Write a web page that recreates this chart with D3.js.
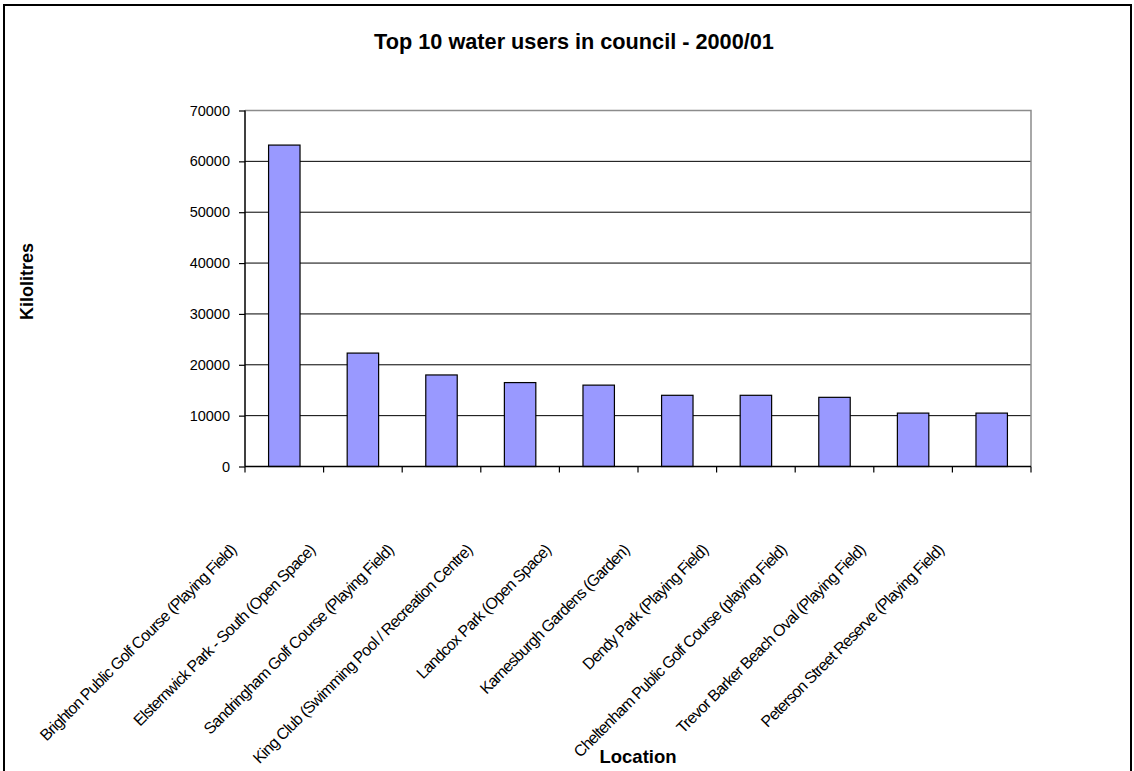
<!DOCTYPE html>
<html>
<head>
<meta charset="utf-8">
<script src="https://cdn.jsdelivr.net/npm/d3@7"></script>
<style>
  html, body { margin: 0; padding: 0; background: #fff; }
  svg { display: block; font-family: "Liberation Sans", Arial, sans-serif; }
</style>
</head>
<body>
<svg id="chart" width="1134" height="771"></svg>
<script>
// Top 10 water users, kilolitres, 2000/01
const locations = [
  "Brighton Public Golf Course (Playing Field)",
  "Elsternwick Park - South (Open Space)",
  "Sandringham Golf Course (Playing Field)",
  "King Club (Swimming Pool / Recreation Centre)",
  "Landcox Park (Open Space)",
  "Karnesburgh Gardens (Garden)",
  "Dendy Park (Playing Field)",
  "Cheltenham Public Golf Course (playing Field)",
  "Trevor Barker Beach Oval (Playing Field)",
  "Peterson Street Reserve (Playing Field)"
];
const kilolitres = [63200, 22300, 18000, 16500, 16000, 14000, 14000, 13600, 10500, 10500];
const yTicks = [0, 10000, 20000, 30000, 40000, 50000, 60000, 70000];

const titleText = "Top 10 water users in council - 2000/01";
const yTitle = "Kilolitres";
const xTitle = "Location";

const svg = d3.select("#chart");

// chart frame
svg.append("rect")
  .attr("x", 4).attr("y", 5)
  .attr("width", 1127).attr("height", 800)
  .attr("fill", "#fff")
  .attr("stroke", "#000")
  .attr("stroke-width", 2);

const plot = { left: 245, right: 1031, top: 110.5, bottom: 466.5 };

const x = d3.scaleBand()
  .domain(locations)
  .range([plot.left, plot.right])
  .paddingInner(0.6)
  .paddingOuter(0.3);

const y = d3.scaleLinear()
  .domain([0, 70000])
  .range([plot.bottom, plot.top]);

// horizontal gridlines
svg.append("g")
  .selectAll("line")
  .data(yTicks.filter(v => v > 0 && v < 70000))
  .join("line")
  .attr("x1", plot.left).attr("x2", plot.right)
  .attr("y1", d => y(d)).attr("y2", d => y(d))
  .attr("stroke", "#000")
  .attr("stroke-width", 1);

// plot area border (top and right)
svg.append("path")
  .attr("d", `M${plot.left},${y(70000)}H${plot.right}V${plot.bottom}`)
  .attr("fill", "none")
  .attr("stroke", "#8c8c8c")
  .attr("stroke-width", 1.5);

// bars
svg.append("g")
  .selectAll("rect")
  .data(locations)
  .join("rect")
  .attr("x", d => x(d))
  .attr("width", x.bandwidth())
  .attr("y", (d, i) => y(kilolitres[i]))
  .attr("height", (d, i) => y(0) - y(kilolitres[i]))
  .attr("fill", "#9999ff")
  .attr("stroke", "#000")
  .attr("stroke-width", 1.2);

// y axis
const yAxis = svg.append("g")
  .attr("transform", `translate(${plot.left},0)`)
  .call(d3.axisLeft(y).tickValues(yTicks).tickFormat(d3.format("d")).tickSize(6).tickPadding(9));
yAxis.select(".domain").attr("stroke", "#000").attr("stroke-width", 1.5)
  .attr("d", `M0,${plot.top}V${plot.bottom}`);
yAxis.selectAll(".tick line").attr("stroke", "#000").attr("stroke-width", 1.2);
yAxis.selectAll(".tick text")
  .attr("font-size", "14.5px")
  .attr("font-family", "'Liberation Sans', Arial, sans-serif")
  .attr("fill", "#000");

// x axis: line and ticks at category boundaries
const step = x.step();
const boundaries = d3.range(locations.length + 1).map(i => plot.left + i * step);
svg.append("line")
  .attr("x1", plot.left).attr("x2", plot.right)
  .attr("y1", plot.bottom).attr("y2", plot.bottom)
  .attr("stroke", "#000").attr("stroke-width", 1.5);
svg.append("g")
  .selectAll("line")
  .data(boundaries)
  .join("line")
  .attr("x1", d => d).attr("x2", d => d)
  .attr("y1", plot.bottom).attr("y2", plot.bottom + 6)
  .attr("stroke", "#000").attr("stroke-width", 1.2);

// rotated category labels, tightly set
svg.append("g")
  .selectAll("text")
  .data(locations)
  .join("text")
  .attr("transform", d => `translate(${x(d) + x.bandwidth() / 2 - 47},${plot.bottom + 84.5}) rotate(-45)`)
  .attr("text-anchor", "end")
  .attr("font-size", "16px")
  .attr("letter-spacing", "-0.8px")
  .attr("fill", "#000")
  .text(d => d);

// title
svg.append("text")
  .attr("x", 574).attr("y", 48.5)
  .attr("text-anchor", "middle")
  .attr("font-size", "21.7px")
  .attr("font-weight", "bold")
  .attr("fill", "#000")
  .text(titleText);

// axis titles
svg.append("text")
  .attr("transform", `translate(32.5,281.5) rotate(-90)`)
  .attr("text-anchor", "middle")
  .attr("font-size", "18px")
  .attr("font-weight", "bold")
  .attr("fill", "#000")
  .text(yTitle);

svg.append("text")
  .attr("x", (plot.left + plot.right) / 2).attr("y", 763)
  .attr("text-anchor", "middle")
  .attr("font-size", "18.5px")
  .attr("font-weight", "bold")
  .attr("fill", "#000")
  .text(xTitle);
</script>
</body>
</html>
